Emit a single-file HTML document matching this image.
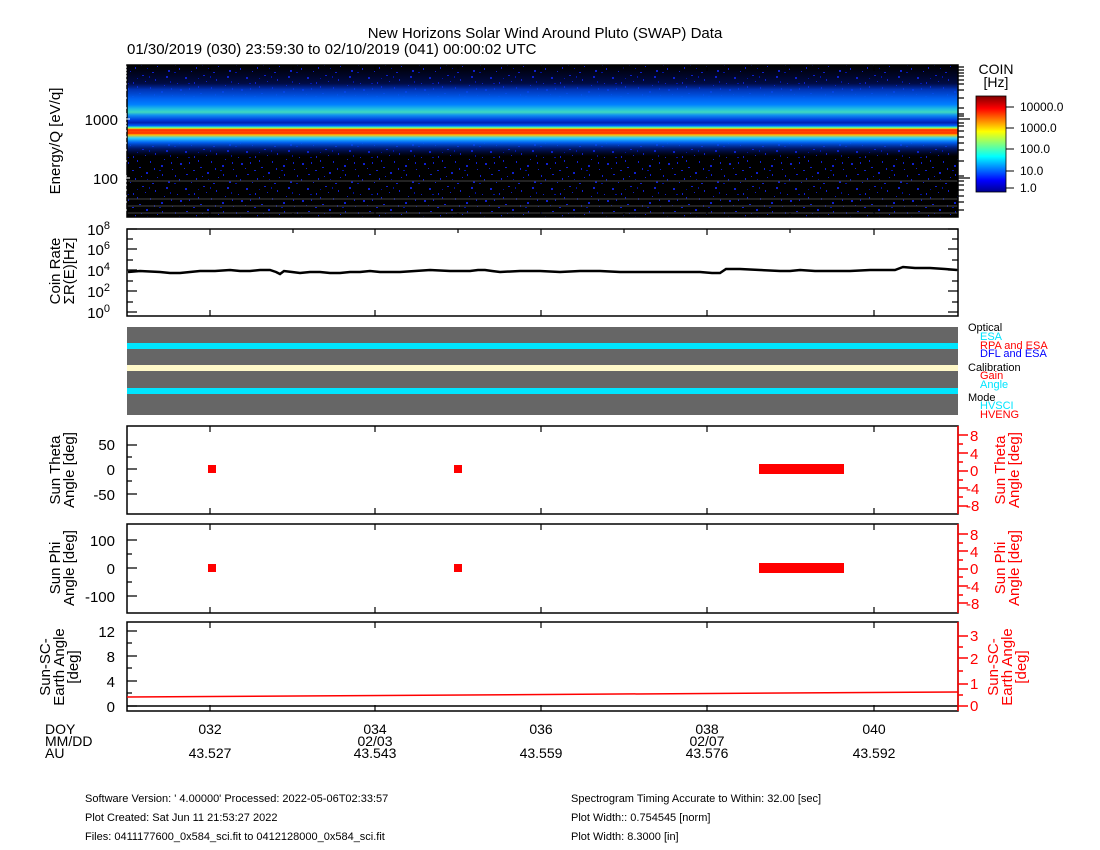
<!DOCTYPE html>
<html><head><meta charset="utf-8"><style>
body{margin:0;background:#fff;}
svg{display:block;font-family:"Liberation Sans",sans-serif;}
</style></head><body>
<svg width="1100" height="850" viewBox="0 0 1100 850">
<defs>
<pattern id="noise" width="61" height="37" patternUnits="userSpaceOnUse">
<rect width="61" height="37" fill="#000"/>
<g fill="#1020d0">
<rect x="2" y="3" width="2" height="2"/><rect x="11" y="8" width="1" height="2"/><rect x="20" y="1" width="2" height="1"/>
<rect x="33" y="5" width="1" height="2"/><rect x="44" y="2" width="2" height="2"/><rect x="55" y="9" width="1" height="1"/>
<rect x="6" y="14" width="1" height="2"/><rect x="17" y="19" width="2" height="1"/><rect x="28" y="13" width="1" height="2"/>
<rect x="39" y="17" width="2" height="2"/><rect x="50" y="21" width="1" height="1"/><rect x="58" y="15" width="2" height="2"/>
<rect x="3" y="26" width="2" height="1"/><rect x="13" y="30" width="1" height="2"/><rect x="24" y="24" width="2" height="2"/>
<rect x="35" y="29" width="1" height="1"/><rect x="46" y="33" width="2" height="2"/><rect x="53" y="27" width="1" height="2"/>
<rect x="8" y="34" width="1" height="1"/><rect x="30" y="35" width="2" height="1"/><rect x="42" y="11" width="1" height="1"/>
<rect x="15" y="12" width="1" height="2"/><rect x="23" y="7" width="1" height="1"/><rect x="49" y="14" width="1" height="2"/>
<rect x="1" y="20" width="1" height="1"/><rect x="32" y="20" width="1" height="2"/><rect x="57" y="31" width="1" height="2"/>
<rect x="19" y="28" width="1" height="1"/><rect x="40" y="26" width="1" height="2"/><rect x="10" y="22" width="2" height="1"/>
</g>
<g fill="#0010a0"><rect x="15" y="4" width="1" height="1"/><rect x="48" y="7" width="1" height="2"/><rect x="25" y="31" width="1" height="1"/><rect x="37" y="22" width="2" height="1"/><rect x="5" y="9" width="2" height="1"/><rect x="27" y="2" width="1" height="2"/><rect x="52" y="35" width="2" height="1"/></g>
</pattern>
<linearGradient id="spec" x1="0" y1="0" x2="0" y2="1">
<stop offset="0" stop-color="#0010c0" stop-opacity="0"/>
<stop offset="0.12" stop-color="#0020c0" stop-opacity="0.35"/>
<stop offset="0.16" stop-color="#0040e0" stop-opacity="0.8"/>
<stop offset="0.22" stop-color="#0060f0"/>
<stop offset="0.26" stop-color="#0080ff"/>
<stop offset="0.29" stop-color="#20c0e0"/>
<stop offset="0.31" stop-color="#40d8c0"/>
<stop offset="0.33" stop-color="#1090f0"/>
<stop offset="0.36" stop-color="#0040e0"/>
<stop offset="0.38" stop-color="#0020b0"/>
<stop offset="0.40" stop-color="#0060ff"/>
<stop offset="0.41" stop-color="#40ffb0"/>
<stop offset="0.42" stop-color="#ffc000"/>
<stop offset="0.43" stop-color="#ff5000"/>
<stop offset="0.45" stop-color="#ff3000"/>
<stop offset="0.46" stop-color="#ffc000"/>
<stop offset="0.48" stop-color="#30d0ff"/>
<stop offset="0.51" stop-color="#0060f0"/>
<stop offset="0.55" stop-color="#0030d0" stop-opacity="0.5"/>
<stop offset="0.60" stop-color="#0010a0" stop-opacity="0"/>
<stop offset="1" stop-color="#000" stop-opacity="0"/>
</linearGradient>
<linearGradient id="cbar" x1="0" y1="1" x2="0" y2="0">
<stop offset="0" stop-color="#00008f"/><stop offset="0.12" stop-color="#0000ff"/>
<stop offset="0.37" stop-color="#00ffff"/><stop offset="0.5" stop-color="#80ff80"/>
<stop offset="0.63" stop-color="#ffff00"/><stop offset="0.87" stop-color="#ff0000"/>
<stop offset="1" stop-color="#800000"/>
</linearGradient>
</defs>

<text x="545" y="38" font-size="15" text-anchor="middle">New Horizons Solar Wind Around Pluto (SWAP) Data</text>
<text x="127" y="54" font-size="15">01/30/2019 (030) 23:59:30 to 02/10/2019 (041) 00:00:02 UTC</text>

<!-- Spectrogram -->
<rect x="127" y="65" width="831" height="152" fill="url(#noise)"/>
<rect x="127" y="65" width="831" height="152" fill="url(#spec)"/>
<rect x="127" y="129" width="831" height="2" fill="#ff2000" opacity="0.6"/>
<g stroke="#444" stroke-width="1"><line x1="127" y1="181" x2="958" y2="181"/><line x1="127" y1="199" x2="958" y2="199"/><line x1="127" y1="206" x2="958" y2="206"/><line x1="127" y1="213" x2="958" y2="213"/></g>
<rect x="127" y="65" width="831" height="152" fill="none" stroke="#000" stroke-width="1.5"/>
<g stroke="#fff" stroke-width="1">
<path d="M121 67h6M121 70h6M121 73h6M121 76h6M121 80h6M121 84h6M121 90h6M121 98h6M121 108h6M121 114h6M121 116h6M121 123h6M121 126h6M121 131h6M121 137h6M121 143h6M121 150h6M121 161h6M121 176h6M121 181h6M121 185h6M121 190h6M121 196h6M121 202h6M121 210h6"/>
<path d="M118 119h12M118 178h12"/>
</g>
<g stroke="#000" stroke-width="1.2">
<path d="M958 67h6M958 70h6M958 73h6M958 76h6M958 80h6M958 84h6M958 90h6M958 98h6M958 108h6M958 114h6M958 116h6M958 123h6M958 126h6M958 131h6M958 137h6M958 143h6M958 150h6M958 161h6M958 176h6M958 181h6M958 185h6M958 190h6M958 196h6M958 202h6M958 210h6M958 119h12M958 178h12"/>
<path d="M210 65v6M293 65v4M375 65v6M458 65v4M541 65v6M624 65v4M707 65v6M790 65v4M874 65v6M210 217v-6M293 217v-4M375 217v-6M458 217v-4M541 217v-6M624 217v-4M707 217v-6M790 217v-4M874 217v-6"/>
</g>
<text x="118" y="125" font-size="15" text-anchor="end">1000</text>
<text x="118" y="184" font-size="15" text-anchor="end">100</text>
<text transform="translate(60,141) rotate(-90)" font-size="15" text-anchor="middle">Energy/Q [eV/q]</text>

<!-- Colorbar -->
<text x="996" y="74" font-size="14" text-anchor="middle">COIN</text>
<text x="996" y="87" font-size="14" text-anchor="middle">[Hz]</text>
<rect x="976" y="96" width="30" height="96" fill="url(#cbar)" stroke="#000" stroke-width="0.8"/>
<g stroke="#000" stroke-width="1"><path d="M1006 107h8M1006 128h8M1006 149h8M1006 171h8M1006 188h8"/></g>
<g font-size="12"><text x="1020" y="111">10000.0</text><text x="1020" y="132">1000.0</text><text x="1020" y="153">100.0</text><text x="1020" y="175">10.0</text><text x="1020" y="192">1.0</text></g>

<!-- Coin rate -->
<rect x="127" y="229" width="831" height="87" fill="none" stroke="#000" stroke-width="1.5"/>
<g stroke="#000" stroke-width="1.2">
<path d="M127 229h10M127 239h6M127 249h10M127 260h6M127 270h10M127 281h6M127 291h10M127 302h6M127 312h10"/>
<path d="M958 229h-10M958 239h-6M958 249h-10M958 260h-6M958 270h-10M958 281h-6M958 291h-10M958 302h-6M958 312h-10"/>
<path d="M210 229v6M375 229v6M541 229v6M707 229v6M874 229v6M293 229v4M458 229v4M624 229v4M790 229v4M210 316v-6M375 316v-6M541 316v-6M707 316v-6M874 316v-6"/>
</g>
<polyline fill="none" stroke="#000" stroke-width="2.5" points="128,272 140,271 160,272 170,273 180,273 190,272 200,271 215,271 230,270 240,271 250,271 260,270 270,270 276,272 280,274 284,271 292,272 300,273 310,272 320,272 330,273 340,273 350,272 360,272 370,271 380,272 390,272 400,272 415,271 430,270 450,271 470,271 478,270 485,270 492,271 500,272 520,271 540,271 560,272 580,271 600,271 620,272 640,272 660,272 680,272 700,272 712,273 720,273 726,269 740,269 760,270 780,271 790,271 800,270 815,271 830,271 850,271 870,270 885,270 895,270 903,267 915,268 930,268 945,269 957,270"/>
<g font-size="15" text-anchor="end">
<text x="110" y="235">10<tspan font-size="11" dy="-6">8</tspan></text>
<text x="110" y="255">10<tspan font-size="11" dy="-6">6</tspan></text>
<text x="110" y="276">10<tspan font-size="11" dy="-6">4</tspan></text>
<text x="110" y="297">10<tspan font-size="11" dy="-6">2</tspan></text>
<text x="110" y="318">10<tspan font-size="11" dy="-6">0</tspan></text>
</g>
<text transform="translate(60,271) rotate(-90)" font-size="15" text-anchor="middle">Coin Rate</text>
<text transform="translate(74,271) rotate(-90)" font-size="15" text-anchor="middle">ΣR(E)[Hz]</text>

<!-- Status panel -->
<rect x="127" y="327" width="831" height="88" fill="#666"/>
<rect x="127" y="343" width="831" height="6" fill="#00e5ff"/>
<rect x="127" y="365" width="831" height="6" fill="#fff8c8"/>
<rect x="127" y="388" width="831" height="6" fill="#00e5ff"/>
<g font-size="11">
<text x="968" y="331">Optical</text>
<text x="980" y="340" fill="#00e5ff">ESA</text>
<text x="980" y="349" fill="#f00">RPA and ESA</text>
<text x="980" y="357" fill="#00f">DFL and ESA</text>
<text x="968" y="371">Calibration</text>
<text x="980" y="379" fill="#f00">Gain</text>
<text x="980" y="388" fill="#00e5ff">Angle</text>
<text x="968" y="401">Mode</text>
<text x="980" y="409" fill="#00e5ff">HVSCI</text>
<text x="980" y="418" fill="#f00">HVENG</text>
</g>

<!-- Sun Theta -->
<rect x="127" y="426" width="831" height="88" fill="none" stroke="#000" stroke-width="1.5"/>
<g stroke="#000" stroke-width="1.2"><path d="M127 445h10M127 457h5M127 469h10M127 481h5M127 494h10M210 426v6M375 426v6M541 426v6M707 426v6M874 426v6M210 514v-6M375 514v-6M541 514v-6M707 514v-6M874 514v-6"/></g>
<g font-size="15" text-anchor="end"><text x="115" y="450">50</text><text x="115" y="475">0</text><text x="115" y="500">-50</text></g>
<text transform="translate(60,470) rotate(-90)" font-size="15" text-anchor="middle">Sun Theta</text>
<text transform="translate(74,470) rotate(-90)" font-size="15" text-anchor="middle">Angle [deg]</text>
<g fill="#f00"><rect x="208" y="465" width="8" height="8"/><rect x="454" y="465" width="8" height="8"/><rect x="759" y="464" width="85" height="10"/></g>
<g stroke="#f00" stroke-width="1.5"><path d="M958 426v88M958 435h10M958 444h5M958 453h10M958 462h5M958 471h10M958 480h5M958 488h10M958 497h5M958 506h10"/></g>
<g font-size="15" fill="#f00"><text x="970" y="441">8</text><text x="970" y="459">4</text><text x="970" y="476">0</text><text x="966" y="494">-4</text><text x="966" y="511">-8</text></g>
<text transform="translate(1005,470) rotate(-90)" font-size="15" fill="#f00" text-anchor="middle">Sun Theta</text>
<text transform="translate(1019,470) rotate(-90)" font-size="15" fill="#f00" text-anchor="middle">Angle [deg]</text>

<!-- Sun Phi -->
<rect x="127" y="524" width="831" height="89" fill="none" stroke="#000" stroke-width="1.5"/>
<g stroke="#000" stroke-width="1.2"><path d="M127 540h10M127 554h5M127 568h10M127 582h5M127 596h10M210 524v6M375 524v6M541 524v6M707 524v6M874 524v6M210 613v-6M375 613v-6M541 613v-6M707 613v-6M874 613v-6"/></g>
<g font-size="15" text-anchor="end"><text x="115" y="546">100</text><text x="115" y="574">0</text><text x="115" y="602">-100</text></g>
<text transform="translate(60,568) rotate(-90)" font-size="15" text-anchor="middle">Sun Phi</text>
<text transform="translate(74,568) rotate(-90)" font-size="15" text-anchor="middle">Angle [deg]</text>
<g fill="#f00"><rect x="208" y="564" width="8" height="8"/><rect x="454" y="564" width="8" height="8"/><rect x="759" y="563" width="85" height="10"/></g>
<g stroke="#f00" stroke-width="1.5"><path d="M958 524v89M958 534h10M958 543h5M958 551h10M958 560h5M958 569h10M958 577h5M958 586h10M958 595h5M958 603h10"/></g>
<g font-size="15" fill="#f00"><text x="970" y="540">8</text><text x="970" y="557">4</text><text x="970" y="574">0</text><text x="966" y="592">-4</text><text x="966" y="609">-8</text></g>
<text transform="translate(1005,568) rotate(-90)" font-size="15" fill="#f00" text-anchor="middle">Sun Phi</text>
<text transform="translate(1019,568) rotate(-90)" font-size="15" fill="#f00" text-anchor="middle">Angle [deg]</text>

<!-- Sun-SC-Earth -->
<rect x="127" y="622" width="831" height="89" fill="none" stroke="#000" stroke-width="1.5"/>
<line x1="127" y1="706" x2="958" y2="706" stroke="#000" stroke-width="1.5"/>
<polyline fill="none" stroke="#f00" stroke-width="1.5" points="127,697 958,692"/>
<g stroke="#000" stroke-width="1.2"><path d="M127 631h10M127 643h5M127 656h10M127 668h5M127 681h10M127 693h5M127 706h10M210 622v6M375 622v6M541 622v6M707 622v6M874 622v6M210 711v-6M375 711v-6M541 711v-6M707 711v-6M874 711v-6"/></g>
<g font-size="15" text-anchor="end"><text x="115" y="637">12</text><text x="115" y="662">8</text><text x="115" y="687">4</text><text x="115" y="712">0</text></g>
<text transform="translate(50,667) rotate(-90)" font-size="15" text-anchor="middle">Sun-SC-</text>
<text transform="translate(64,667) rotate(-90)" font-size="15" text-anchor="middle">Earth Angle</text>
<text transform="translate(78,667) rotate(-90)" font-size="15" text-anchor="middle">[deg]</text>
<g stroke="#f00" stroke-width="1.5"><path d="M958 622v89M958 636h10M958 647h5M958 658h10M958 671h5M958 684h10M958 695h5M958 706h10"/></g>
<g font-size="15" fill="#f00"><text x="970" y="641">3</text><text x="970" y="664">2</text><text x="970" y="689">1</text><text x="970" y="711">0</text></g>
<text transform="translate(998,667) rotate(-90)" font-size="15" fill="#f00" text-anchor="middle">Sun-SC-</text>
<text transform="translate(1012,667) rotate(-90)" font-size="15" fill="#f00" text-anchor="middle">Earth Angle</text>
<text transform="translate(1026,667) rotate(-90)" font-size="15" fill="#f00" text-anchor="middle">[deg]</text>

<!-- X labels -->
<g font-size="14">
<text x="45" y="734">DOY</text><text x="45" y="746">MM/DD</text><text x="45" y="758">AU</text>
</g>
<g font-size="14" text-anchor="middle">
<text x="210" y="734">032</text><text x="375" y="734">034</text><text x="541" y="734">036</text><text x="707" y="734">038</text><text x="874" y="734">040</text>
<text x="375" y="746">02/03</text><text x="707" y="746">02/07</text>
<text x="210" y="758">43.527</text><text x="375" y="758">43.543</text><text x="541" y="758">43.559</text><text x="707" y="758">43.576</text><text x="874" y="758">43.592</text>
</g>

<!-- Footer -->
<g font-size="11">
<text x="85" y="802">Software Version:  ' 4.00000'  Processed: 2022-05-06T02:33:57</text>
<text x="85" y="821">Plot Created: Sat Jun 11 21:53:27 2022</text>
<text x="85" y="840">Files: 0411177600_0x584_sci.fit to 0412128000_0x584_sci.fit</text>
<text x="571" y="802">Spectrogram Timing Accurate to Within: 32.00 [sec]</text>
<text x="571" y="821">Plot Width:: 0.754545 [norm]</text>
<text x="571" y="840">Plot Width: 8.3000 [in]</text>
</g>
</svg>
</body></html>
